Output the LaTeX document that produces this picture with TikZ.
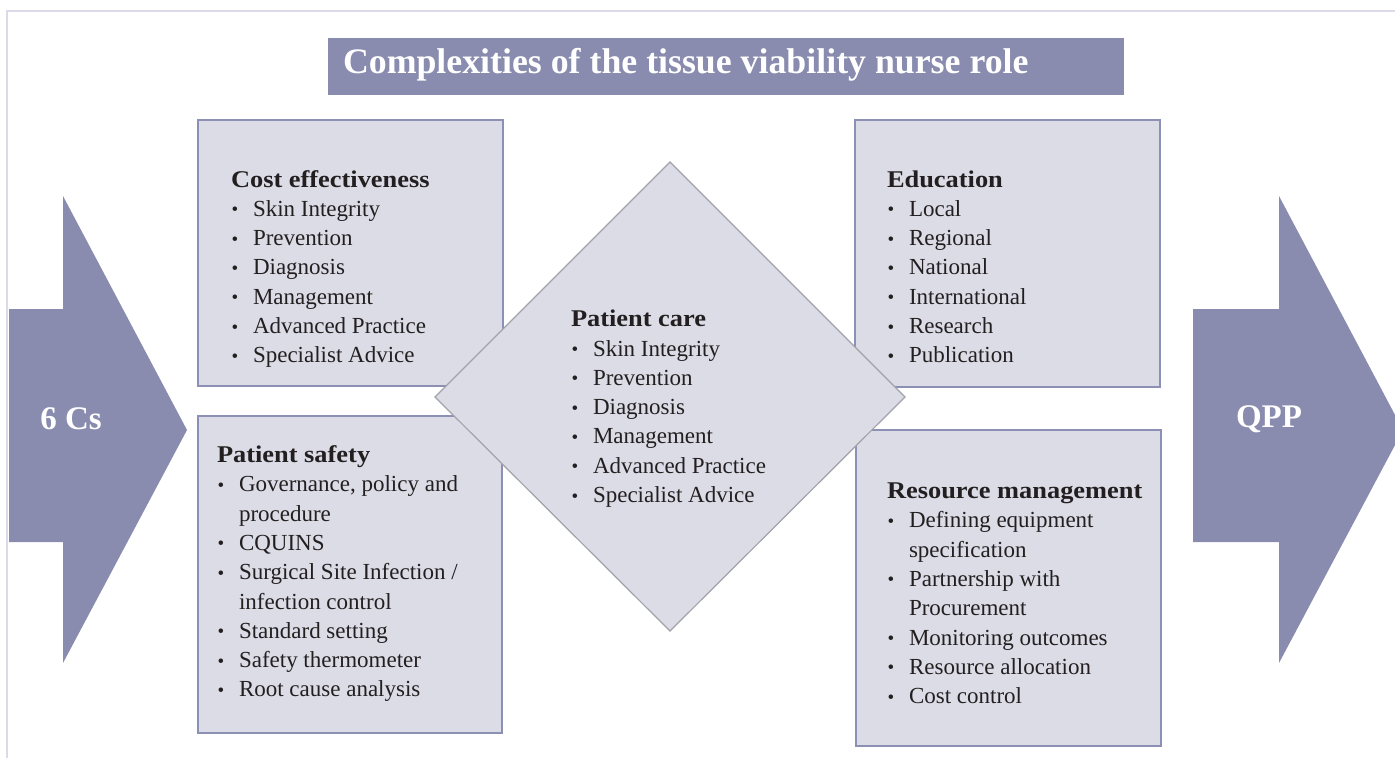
\documentclass[tikz,border=0pt]{standalone}
\usepackage{fontspec}
\setmainfont{Liberation Serif}
\newfontface\hbold{Liberation Serif Bold}[FakeStretch=1.1]
\definecolor{arrowc}{HTML}{898CAE}
\definecolor{boxfill}{HTML}{DCDCE7}
\definecolor{boxline}{HTML}{8C90B5}
\definecolor{diamline}{HTML}{A2A2AA}
\definecolor{framec}{HTML}{DADAE8}
\definecolor{textc}{HTML}{231F20}
\newcommand{\blt}{\makebox[22pt][l]{\hspace{0.5pt}\raisebox{0.5pt}{\fontsize{19}{19}\selectfont\textbullet}}}
\newcommand{\cnt}{\hspace*{22pt}}
\newcommand{\hd}[1]{{\hbold\fontsize{24}{29.3}\selectfont #1}}
\begin{document}
\begin{tikzpicture}[x=1pt,y=-1pt,
  every node/.style={inner sep=0pt,outer sep=0pt},
  boxstyle/.style={draw=boxline,fill=boxfill,line width=1.3pt,anchor=north west},
  diamstyle/.style={draw=diamline,fill=boxfill,line width=1.2pt},
  listtext/.style={anchor=base west,text=textc,font=\fontsize{23}{29.3}\selectfont},
  bigwhite/.style={text=white,font=\bfseries\fontsize{33}{36}\selectfont}]
\useasboundingbox (0,0) rectangle (1395,758);
% frame
\draw[framec,line width=1.5pt] (7,758) -- (7,11) -- (1395,11);
% title
\node[fill=arrowc,minimum width=796pt,minimum height=57pt,anchor=north west] (titlebox) at (328,38) {};
\node[anchor=base west,text=white,font=\bfseries\fontsize{35.8}{40}\selectfont] (title) at (343,73) {Complexities of the tissue viability nurse role};
% arrows
\fill[arrowc] (9,309) -- (63,309) -- (63,196) -- (187,430) -- (63,663) -- (63,542) -- (9,542) -- cycle;
\fill[arrowc] (1193,309) -- (1279,309) -- (1279,196) -- (1403,430) -- (1279,663) -- (1279,542) -- (1193,542) -- cycle;
\node[bigwhite] (sixcs) at (71,419) {6 Cs};
\node[bigwhite] (qpp) at (1269,419) {QPP};
% boxes
\node[boxstyle,minimum width=305pt,minimum height=266pt] (ce) at (198,120) {};
\node[boxstyle,minimum width=304pt,minimum height=317pt] (ps) at (198,416) {};
\node[boxstyle,minimum width=305pt,minimum height=267pt] (ed) at (855,120) {};
\node[boxstyle,minimum width=305pt,minimum height=316pt] (rm) at (856,430) {};
% diamond
\draw[diamstyle] (670,162) -- (905,397) -- (670,631) -- (435,397) -- cycle;
% texts
\node[listtext] (cetext) at (231,187) {\begin{tabular}[t]{@{}l@{}}
\hd{Cost effectiveness}\\
\blt Skin Integrity\\
\blt Prevention\\
\blt Diagnosis\\
\blt Management\\
\blt Advanced Practice\\
\blt Specialist Advice
\end{tabular}};
\node[listtext] (edtext) at (887,187) {\begin{tabular}[t]{@{}l@{}}
\hd{Education}\\
\blt Local\\
\blt Regional\\
\blt National\\
\blt International\\
\blt Research\\
\blt Publication
\end{tabular}};
\node[listtext] (pctext) at (571,326.7) {\begin{tabular}[t]{@{}l@{}}
\hd{Patient care}\\
\blt Skin Integrity\\
\blt Prevention\\
\blt Diagnosis\\
\blt Management\\
\blt Advanced Practice\\
\blt Specialist Advice
\end{tabular}};
\node[listtext] (pstext) at (217,462.5) {\begin{tabular}[t]{@{}l@{}}
\hd{Patient safety}\\
\blt Governance, policy and\\
\cnt procedure\\
\blt CQUINS\\
\blt Surgical Site Infection /\\
\cnt infection control\\
\blt Standard setting\\
\blt Safety thermometer\\
\blt Root cause analysis
\end{tabular}};
\node[listtext] (rmtext) at (887,498.5) {\begin{tabular}[t]{@{}l@{}}
\hd{Resource management}\\
\blt Defining equipment\\
\cnt specification\\
\blt Partnership with\\
\cnt Procurement\\
\blt Monitoring outcomes\\
\blt Resource allocation\\
\blt Cost control
\end{tabular}};
\end{tikzpicture}
\end{document}
